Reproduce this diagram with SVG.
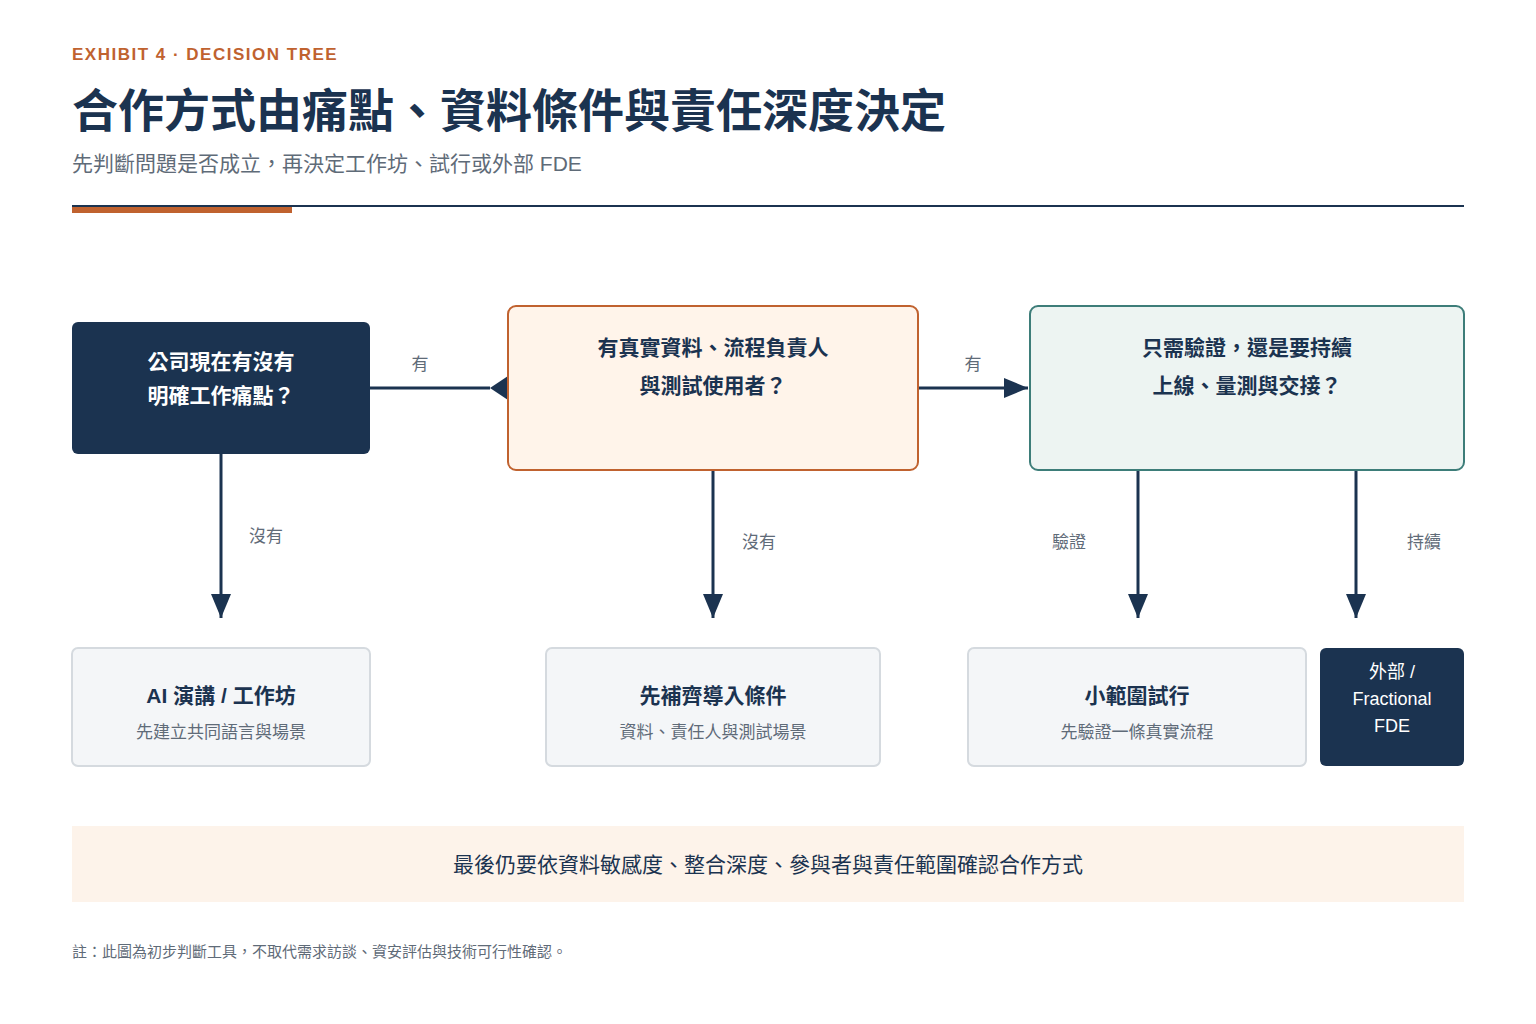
<svg xmlns="http://www.w3.org/2000/svg" width="1536" height="1024" viewBox="0 0 1536 1024">
<style>
text{font-family:"Liberation Sans","Noto Sans CJK TC",sans-serif}
.lbl{font-size:17px;fill:#5f6b78}
.t{font-size:21px;font-weight:bold;fill:#1b3350}
.s{font-size:17px;fill:#5f6b78}
.w{fill:#fff}
.ln{stroke:#1b3350;stroke-width:3;fill:none}
.lt{fill:#f4f6f8;stroke:#d5dadf;stroke-width:2}
</style>
<defs><marker id="ah" markerWidth="8" markerHeight="8" refX="7" refY="4" orient="auto" markerUnits="userSpaceOnUse" viewBox="0 0 8 8"><path d="M0,0L8,4L0,8Z" fill="#1b3350"/></marker>
<marker id="a" markerWidth="24" markerHeight="20" refX="24" refY="10" orient="auto" markerUnits="userSpaceOnUse"><path d="M0,0L24,10L0,20Z" fill="#1b3350"/></marker></defs>
<rect width="1536" height="1024" fill="#fff"/>
<text x="72" y="60" font-size="17" font-weight="bold" fill="#c0622f" letter-spacing="1.5">EXHIBIT 4 · DECISION TREE</text>
<text x="72" y="127" font-size="46" font-weight="bold" fill="#1b3350">合作方式由痛點、資料條件與責任深度決定</text>
<text x="72" y="171" font-size="21" fill="#5f6b78">先判斷問題是否成立，再決定工作坊、試行或外部 FDE</text>
<rect x="72" y="205" width="1392" height="2" fill="#1b3350"/>
<rect x="72" y="207" width="220" height="6" fill="#c0622f"/>
<g id="connectors">
<line class="ln" x1="370" y1="388" x2="490" y2="388"/>
<path d="M508,376L490,388L508,400Z" fill="#1b3350"/>
<line class="ln" x1="918" y1="388" x2="1028" y2="388" marker-end="url(#a)"/>
<line class="ln" x1="221" y1="454" x2="221" y2="618" marker-end="url(#a)"/>
<line class="ln" x1="713" y1="470" x2="713" y2="618" marker-end="url(#a)"/>
<line class="ln" x1="1138" y1="470" x2="1138" y2="618" marker-end="url(#a)"/>
<line class="ln" x1="1356" y1="470" x2="1356" y2="618" marker-end="url(#a)"/>
<text class="lbl" x="420" y="370" text-anchor="middle">有</text>
<text class="lbl" x="973" y="370" text-anchor="middle">有</text>
<text class="lbl" x="266" y="542" text-anchor="middle">沒有</text>
<text class="lbl" x="759" y="548" text-anchor="middle">沒有</text>
<text class="lbl" x="1069" y="548" text-anchor="middle">驗證</text>
<text class="lbl" x="1424" y="548" text-anchor="middle">持續</text>
</g>
<g id="q1"><rect x="72" y="322" width="298" height="132" rx="6" fill="#1b3350"/>
<text class="t w" x="221" y="369" text-anchor="middle">公司現在有沒有</text>
<text class="t w" x="221" y="403" text-anchor="middle">明確工作痛點？</text></g>
<g id="q2"><rect x="508" y="306" width="410" height="164" rx="8" fill="#fff4ea" stroke="#c0622f" stroke-width="2"/>
<text class="t" x="713" y="355" text-anchor="middle">有真實資料、流程負責人</text>
<text class="t" x="713" y="393" text-anchor="middle">與測試使用者？</text></g>
<g id="q3"><rect x="1030" y="306" width="434" height="164" rx="8" fill="#edf4f2" stroke="#3d7d79" stroke-width="2"/>
<text class="t" x="1247" y="355" text-anchor="middle">只需驗證，還是要持續</text>
<text class="t" x="1247" y="393" text-anchor="middle">上線、量測與交接？</text></g>
<g id="r1"><rect class="lt" x="72" y="648" width="298" height="118" rx="6"/>
<text class="t" x="221" y="703" text-anchor="middle">AI 演講 / 工作坊</text>
<text class="s" x="221" y="738" text-anchor="middle">先建立共同語言與場景</text></g>
<g id="r2"><rect class="lt" x="546" y="648" width="334" height="118" rx="6"/>
<text class="t" x="713" y="703" text-anchor="middle">先補齊導入條件</text>
<text class="s" x="713" y="738" text-anchor="middle">資料、責任人與測試場景</text></g>
<g id="r3"><rect class="lt" x="968" y="648" width="338" height="118" rx="6"/>
<text class="t" x="1137" y="703" text-anchor="middle">小範圍試行</text>
<text class="s" x="1137" y="738" text-anchor="middle">先驗證一條真實流程</text></g>
<g id="r4"><rect x="1320" y="648" width="144" height="118" rx="6" fill="#1b3350"/>
<text class="w" font-size="18" x="1392" y="678" text-anchor="middle">外部 /</text>
<text class="w" font-size="18" x="1392" y="705" text-anchor="middle">Fractional</text>
<text class="w" font-size="18" x="1392" y="732" text-anchor="middle">FDE</text></g>
<g id="footer"><rect x="72" y="826" width="1392" height="76" fill="#fdf3ea"/>
<text x="768" y="872" font-size="21" fill="#1b3350" text-anchor="middle">最後仍要依資料敏感度、整合深度、參與者與責任範圍確認合作方式</text></g>
<text x="72" y="957" font-size="15" fill="#5f6b78">註：此圖為初步判斷工具，不取代需求訪談、資安評估與技術可行性確認。</text>
</svg>
